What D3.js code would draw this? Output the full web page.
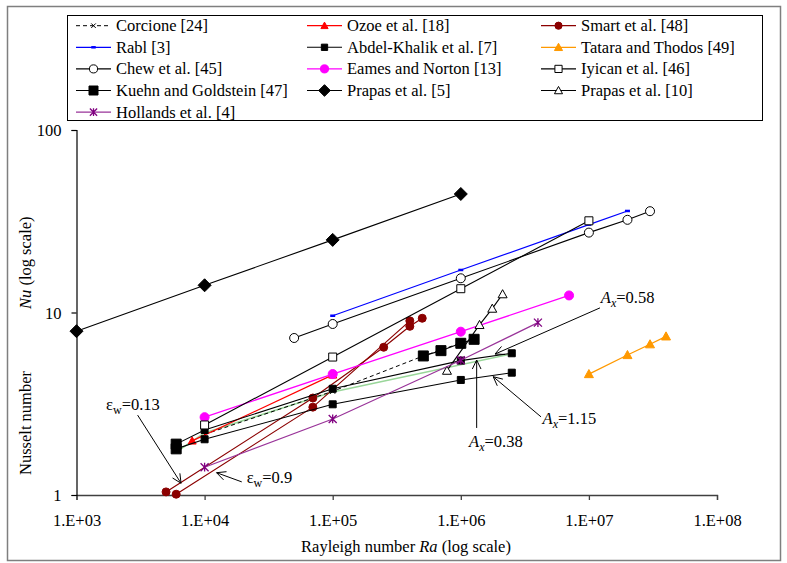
<!DOCTYPE html>
<html><head><meta charset="utf-8">
<script src="https://cdn.jsdelivr.net/npm/d3@7/dist/d3.min.js"></script>
<style>
body{margin:0;background:#fff}
svg text{font-family:"Liberation Serif","Times New Roman",Times,serif !important;fill:#000}
</style>
</head><body>
<svg id="chart" width="787" height="563" font-family="Liberation Serif"></svg>
<script>
// ---------------- data ----------------
const corcioneRa = [1e4, 1e5, 5e5, 1e6];
const corcioneNu = [2.15, 3.7, 5.75, 6.8];
const ozoeRa = [8e3, 1e5];
const ozoeNu = [1.98, 4.55];
const smartARa = [5e3, 7e4, 2.5e5, 4e5, 5e5];   // eps_w = 0.13
const smartANu = [1.04, 3.4, 6.45, 8.4, 9.3];
const smartBRa = [6e3, 7e4, 4e5];              // eps_w = 0.9
const smartBNu = [1.01, 3.03, 9.0];
const rablRa = [1e5, 1e6, 1e7, 2e7];
const rablNu = [9.6, 17.1, 30.3, 36];
const abdel058Ra = [6e3, 1e4, 1e5, 1e6, 2.5e6];
const abdel058Nu = [1.9, 2.27, 3.82, 5.45, 5.98];
const abdel115Ra = [6e3, 1e4, 1e5, 1e6, 2.5e6];
const abdel115Nu = [1.79, 2.02, 3.14, 4.27, 4.68];
const abdel038Ra = [6e3, 1e4, 1e5, 2.5e6];
const abdel038Nu = [1.72, 2.19, 3.67, 5.93];
const tataraRa = [1e7, 2e7, 3e7, 4e7];
const tataraNu = [4.6, 5.85, 6.7, 7.4];
const chewRa = [5e4, 1e5, 1e6, 1e7, 2e7, 3e7];
const chewNu = [7.25, 8.65, 15.4, 27.4, 32.2, 35.9];
const eamesRa = [1e4, 1e5, 1e6, 7e6];
const eamesNu = [2.67, 4.6, 7.85, 12.4];
const iyicanRa = [1e4, 1e5, 1e6, 1e7];
const iyicanNu = [2.42, 5.7, 13.5, 31.8];
const kuehnLeftRa = [6e3, 6e3];
const kuehnLeftNu = [1.9, 1.79];
const kuehnRa = [5.1e5, 7e5, 1e6, 1.27e6];
const kuehnNu = [5.78, 6.18, 6.78, 7.13];
const prapas5Ra = [1e3, 1e4, 1e5, 1e6];
const prapas5Nu = [7.9, 14.1, 25, 44.6];
const prapas10Ra = [7.8e5, 1.4e6, 1.76e6, 2.12e6];
const prapas10Nu = [4.8, 8.55, 10.5, 12.6];
const hollandsRa = [1e4, 1e5, 1e6, 4e6];
const hollandsNu = [1.42, 2.61, 5.47, 8.8];

const xTicks = [1e3, 1e4, 1e5, 1e6, 1e7, 1e8];
const xTickLabels = ["1.E+03", "1.E+04", "1.E+05", "1.E+06", "1.E+07", "1.E+08"];
const yTicks = [1, 10, 100];
const yTickLabels = ["1", "10", "100"];

const legendLabels = ["Corcione [24]", "Ozoe et al. [18]", "Smart et al. [48]",
  "Rabl [3]", "Abdel-Khalik et al. [7]", "Tatara and Thodos [49]",
  "Chew et al. [45]", "Eames and Norton [13]", "Iyican et al. [46]",
  "Kuehn and Goldstein [47]", "Prapas et al. [5]", "Prapas et al. [10]",
  "Hollands et al. [4]"];

// annotations: label position and arrow (tail -> head) in data coords
const annLabels = [
  {kind: "A", sub: "x", val: "=0.58", ra: 1.24e7, nu: 11.3},
  {kind: "A", sub: "x", val: "=0.38", ra: 1.16e6, nu: 1.84},
  {kind: "A", sub: "x", val: "=1.15", ra: 4.35e6, nu: 2.45},
  {kind: "ε", sub: "w", val: "=0.13", ra: 1.70e3, nu: 2.92},
  {kind: "ε", sub: "w", val: "=0.9", ra: 2.13e4, nu: 1.164}
];
const annArrows = [
  [1.22e7, 10.6, 1.85e6, 5.92],
  [1.33e6, 2.33, 1.33e6, 5.49],
  [4.23e6, 2.68, 1.79e6, 4.45],
  [3.0e3, 2.74, 6.55e3, 1.16],
  [1.95e4, 1.18, 1.24e4, 1.325]
];

// ---------------- chart ----------------
const FONT = "'Liberation Serif','Times New Roman',Times,serif";
const svg = d3.select("#chart");
const FS = 16.5;
const x = d3.scaleLog().domain([1e3, 1e8]).range([76.5, 717]);
const y = d3.scaleLog().domain([1, 100]).range([495, 130]);

// outer frame
svg.append("rect").attr("x", 7.5).attr("y", 6.5).attr("width", 773).attr("height", 554)
  .attr("fill", "none").attr("stroke", "#7f7f7f").attr("stroke-width", 1.5);

// axes
const xAxis = d3.axisBottom(x).tickValues(xTicks).tickSize(5).tickFormat((d, i) => xTickLabels[i]);
const gx = svg.append("g").attr("transform", "translate(0,495)").call(xAxis).attr("font-family", null);
gx.select(".domain").attr("stroke", "#404040").attr("stroke-width", 1.3);
gx.selectAll(".tick line").attr("stroke", "#404040").attr("stroke-width", 1.3);
gx.selectAll(".tick text").attr("font-size", FS).attr("dy", "0").attr("y", 31);

const yAxis = d3.axisLeft(y).tickValues(yTicks).tickSize(5).tickFormat((d, i) => yTickLabels[i]);
const gy = svg.append("g").attr("transform", "translate(76.5,0)").call(yAxis).attr("font-family", null);
gy.select(".domain").attr("stroke", "#000").attr("stroke-width", 1.2);
gy.selectAll(".tick line").attr("stroke", "#000").attr("stroke-width", 1.2);
gy.selectAll(".tick text").attr("font-size", FS).attr("x", -15).attr("dy", "0.35em");

// axis titles
const xt = svg.append("text").attr("x", 406).attr("y", 552).attr("text-anchor", "middle").attr("font-size", FS);
xt.append("tspan").text("Rayleigh number ");
xt.append("tspan").attr("font-style", "italic").text("Ra");
xt.append("tspan").text(" (log scale)");

svg.append("text").attr("transform", "translate(31,475) rotate(-90)").attr("font-size", FS).text("Nusselt number");
const yt2 = svg.append("text").attr("transform", "translate(31,309) rotate(-90)").attr("font-size", FS);
yt2.append("tspan").attr("font-style", "italic").text("Nu");
yt2.append("tspan").text(" (log scale)");

// marker path generator (centered at 0,0)
function markerPath(type, s) {
  const h = s / 2;
  switch (type) {
    case "diamond": return `M0,${-h}L${h},0L0,${h}L${-h},0Z`;
    case "square": return `M${-h},${-h}H${h}V${h}H${-h}Z`;
    case "triangle": return `M0,${-h}L${h},${h * 0.8}L${-h},${h * 0.8}Z`;
    case "circle": return `M${h},0A${h},${h} 0 1,1 ${-h},0A${h},${h} 0 1,1 ${h},0Z`;
    case "star": return `M${-h},${-h}L${h},${h}M${-h},${h}L${h},${-h}M0,${-h * 1.1}V${h * 1.1}`;
    case "x": return `M${-h},${-h}L${h},${h}M${-h},${h}L${h},${-h}`;
    case "dash": return `M${-h},0H${h}`;
  }
}

const series = [
  {ra: abdel038Ra, nu: abdel038Nu, color: "#99d699", width: 1.6, marker: null},
  {ra: corcioneRa, nu: corcioneNu, color: "#000", width: 1, dash: "4,3", marker: "x", msize: 5, fill: "none", mstroke: "#000"},
  {ra: ozoeRa, nu: ozoeNu, color: "#ff0000", width: 1.2, marker: "triangle", msize: 8, fill: "#ff0000", mstroke: "#ff0000"},
  {ra: smartARa, nu: smartANu, color: "#8b0000", width: 1.2, marker: "circle", msize: 8, fill: "#8b0000", mstroke: "#8b0000"},
  {ra: smartBRa, nu: smartBNu, color: "#8b0000", width: 1.2, marker: "circle", msize: 8, fill: "#8b0000", mstroke: "#8b0000"},
  {ra: rablRa, nu: rablNu, color: "#0000ff", width: 1.2, marker: "dash", msize: 5, fill: "none", mstroke: "#0000ff", mwidth: 2.5},
  {ra: abdel058Ra, nu: abdel058Nu, color: "#000", width: 1.1, marker: "square", msize: 7, fill: "#000", mstroke: "#000"},
  {ra: abdel115Ra, nu: abdel115Nu, color: "#000", width: 1.1, marker: "square", msize: 7, fill: "#000", mstroke: "#000"},
  {ra: tataraRa, nu: tataraNu, color: "#ff9900", width: 1.3, marker: "triangle", msize: 9, fill: "#ff9900", mstroke: "#ff9900"},
  {ra: chewRa, nu: chewNu, color: "#000", width: 1.1, marker: "circle", msize: 9, fill: "#fff", mstroke: "#000"},
  {ra: eamesRa, nu: eamesNu, color: "#ff00ff", width: 1.3, marker: "circle", msize: 9, fill: "#ff00ff", mstroke: "#ff00ff"},
  {ra: iyicanRa, nu: iyicanNu, color: "#000", width: 1.1, marker: "square", msize: 8, fill: "#fff", mstroke: "#000"},
  {ra: kuehnLeftRa, nu: kuehnLeftNu, color: "#000", width: 1.1, marker: "square", msize: 10, fill: "#000", mstroke: "#000"},
  {ra: kuehnRa, nu: kuehnNu, color: "#000", width: 1.1, marker: "square", msize: 10, fill: "#000", mstroke: "#000"},
  {ra: prapas5Ra, nu: prapas5Nu, color: "#000", width: 1.1, marker: "diamond", msize: 13, fill: "#000", mstroke: "#000"},
  {ra: prapas10Ra, nu: prapas10Nu, color: "#000", width: 1.1, marker: "triangle", msize: 9, fill: "#fff", mstroke: "#000"},
  {ra: hollandsRa, nu: hollandsNu, color: "#993399", width: 1.2, marker: "star", msize: 8, fill: "none", mstroke: "#800080", mwidth: 1.3}
];

const line = d3.line().x(d => x(d[0])).y(d => y(d[1]));
const plot = svg.append("g");
series.forEach(s => {
  const pts = s.ra.map((r, i) => [r, s.nu[i]]);
  plot.append("path").attr("d", line(pts)).attr("fill", "none")
    .attr("stroke", s.color).attr("stroke-width", s.width).attr("stroke-dasharray", s.dash || null);
  if (s.marker) {
    plot.selectAll(null).data(pts).enter().append("path")
      .attr("transform", d => `translate(${x(d[0])},${y(d[1])})`)
      .attr("d", markerPath(s.marker, s.msize))
      .attr("fill", s.fill).attr("stroke", s.mstroke).attr("stroke-width", s.mwidth || 1);
  }
});

// annotations
function arrow(x1, y1, x2, y2) {
  const g = svg.append("g").attr("stroke", "#000").attr("stroke-width", 1).attr("fill", "none");
  g.append("line").attr("x1", x1).attr("y1", y1).attr("x2", x2).attr("y2", y2);
  const a = Math.atan2(y1 - y2, x1 - x2), L = 10, sp = 0.45;
  g.append("path").attr("d",
    `M${x2 + L * Math.cos(a + sp)},${y2 + L * Math.sin(a + sp)}L${x2},${y2}L${x2 + L * Math.cos(a - sp)},${y2 + L * Math.sin(a - sp)}`);
}
annArrows.forEach(a => arrow(x(a[0]), y(a[1]), x(a[2]), y(a[3])));
annLabels.forEach(l => {
  const t = svg.append("text").attr("x", x(l.ra)).attr("y", y(l.nu)).attr("font-size", FS);
  t.append("tspan").attr("font-style", l.kind === "A" ? "italic" : "normal").text(l.kind);
  t.append("tspan").attr("font-size", 12).attr("dy", 4).attr("font-style", l.kind === "A" ? "italic" : "normal").text(l.sub);
  t.append("tspan").attr("dy", -4).text(l.val);
});

// legend
svg.append("rect").attr("x", 67.5).attr("y", 15.5).attr("width", 695).attr("height", 105)
  .attr("fill", "#fff").attr("stroke", "#000").attr("stroke-width", 1);
const legendSeries = [series[1], series[2], series[3], series[5], series[6], series[8],
  series[9], series[10], series[11], series[13], series[14], series[15], series[16]];
const colX = [76, 307, 541];
legendLabels.forEach((lab, i) => {
  const s = legendSeries[i];
  const cx = colX[i % 3], cy = 25.7 + Math.floor(i / 3) * 21.6;
  const g = svg.append("g");
  g.append("line").attr("x1", cx).attr("x2", cx + 35).attr("y1", cy).attr("y2", cy)
    .attr("stroke", s.color).attr("stroke-width", s.width).attr("stroke-dasharray", s.dash || null);
  g.append("path").attr("transform", `translate(${cx + 17.5},${cy})`)
    .attr("d", markerPath(s.marker, s.msize * 0.9))
    .attr("fill", s.fill).attr("stroke", s.mstroke).attr("stroke-width", s.mwidth || 1);
  g.append("text").attr("x", cx + 40).attr("y", cy + 5.5).attr("font-size", FS).text(lab);
});

svg.selectAll("text").style("font-family", FONT);
</script>
</body></html>
